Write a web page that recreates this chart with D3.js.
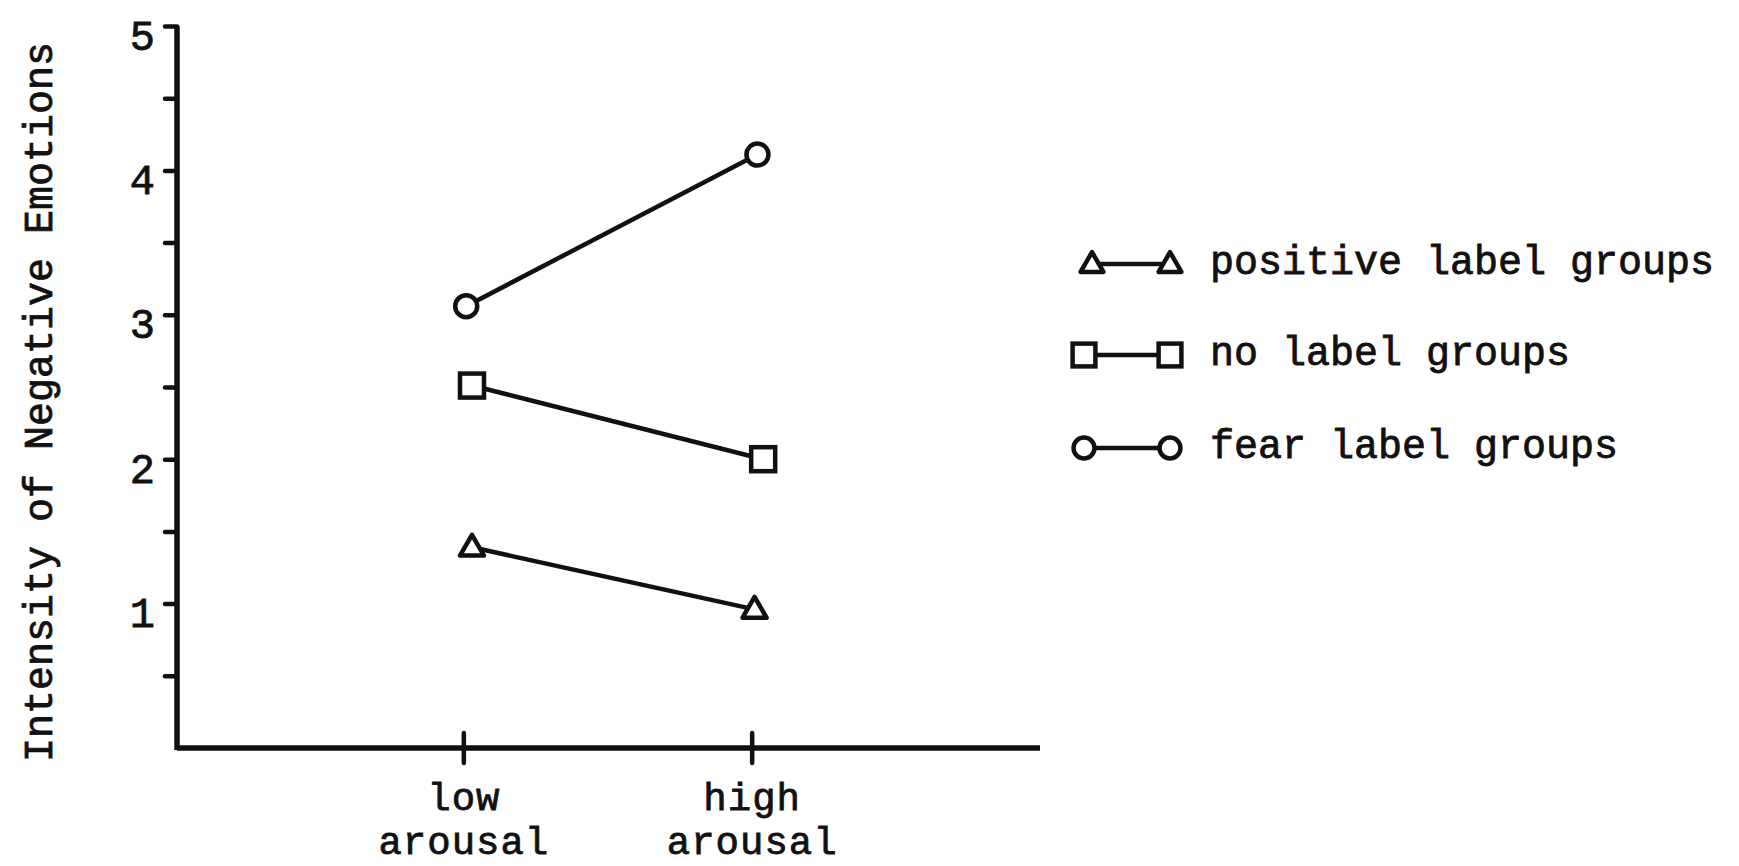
<!DOCTYPE html>
<html>
<head>
<meta charset="utf-8">
<script src="https://cdn.jsdelivr.net/npm/d3@7"></script>
<style>
  html, body { margin: 0; padding: 0; background: #fff; }
  svg { display: block; }
  text { font-family: "Liberation Mono", "Courier New", monospace; fill: #111; }
</style>
</head>
<body>
<svg id="chart" width="1739" height="866"></svg>
<script>
// ---- data ----
const categories = ["low arousal", "high arousal"];
const categoryPos = [1, 2];
const seriesNames = ["positive label groups", "no label groups", "fear label groups"];
const seriesSymbols = ["triangle", "square", "circle"];
const positiveValues = [1.39, 0.96];
const noLabelValues = [2.51, 2.00];
const fearValues = [3.06, 4.11];
// slight horizontal placement of plotted points (in arousal-level units)
const positiveX = [1.03, 2.01];
const noLabelX = [1.03, 2.04];
const fearX = [1.01, 2.02];
const yTickValues = [0.5, 1, 1.5, 2, 2.5, 3, 3.5, 4, 4.5, 5];
const yTickLabels = ["", "1", "", "2", "", "3", "", "4", "", "5"];
const yTitle = "Intensity of Negative Emotions";

const series = [
  { name: seriesNames[0], symbol: seriesSymbols[0], xs: positiveX, ys: positiveValues },
  { name: seriesNames[1], symbol: seriesSymbols[1], xs: noLabelX, ys: noLabelValues },
  { name: seriesNames[2], symbol: seriesSymbols[2], xs: fearX, ys: fearValues }
];

// ---- layout ----
const svg = d3.select("#chart");
const ink = "#111";
const x = d3.scaleLinear().domain([0, 3]).range([175, 1040]);
const y = d3.scaleLinear().domain([0, 5]).range([748, 26]);

// y axis
const yAxis = d3.axisLeft(y)
  .tickValues(yTickValues)
  .tickSize(12)
  .tickPadding(10)
  .tickFormat((d, i) => yTickLabels[i]);
const gy = svg.append("g").attr("transform", `translate(${x(0) + 2},0)`).call(yAxis);
gy.select(".domain").attr("d", `M0,${y(5)}V${y(0) + 2}`)
  .attr("stroke", ink).attr("stroke-width", 5.5).attr("fill", "none");
gy.selectAll(".tick line").attr("stroke", ink).attr("stroke-width", 4.5).attr("stroke-linecap", "round");
gy.selectAll(".tick text")
  .attr("font-size", 42)
  .attr("font-family", "'Liberation Mono', monospace")
  .attr("fill", ink)
  .attr("stroke", ink).attr("stroke-width", 0.8)
  .attr("dy", "0.55em");

// x axis
const xAxis = d3.axisBottom(x)
  .tickValues(categoryPos)
  .tickSize(15)
  .tickFormat("");
const gx = svg.append("g").attr("transform", `translate(0,${y(0)})`).call(xAxis);
gx.select(".domain").attr("d", `M${x(0) + 2},0H${x(3)}`)
  .attr("stroke", ink).attr("stroke-width", 5.5).attr("fill", "none");
gx.selectAll(".tick line").attr("y1", -15).attr("y2", 15)
  .attr("stroke", ink).attr("stroke-width", 4.5).attr("stroke-linecap", "round");
gx.selectAll(".tick").each(function (d, i) {
  const words = categories[i].split(" ");
  words.forEach((w, k) => {
    d3.select(this).append("text")
      .attr("text-anchor", "middle")
      .attr("x", 0).attr("y", 62 + k * 44)
      .attr("font-size", 39)
      .attr("letter-spacing", 1)
      .attr("font-family", "'Liberation Mono', monospace")
      .attr("fill", ink)
      .attr("stroke", ink).attr("stroke-width", 0.8)
      .text(w);
  });
});

// y title
svg.append("text")
  .attr("transform", `translate(52,${402}) rotate(-90)`)
  .attr("text-anchor", "middle")
  .attr("font-size", 40)
  .attr("stroke", ink).attr("stroke-width", 0.8)
  .text(yTitle);

// ---- symbols ----
function drawSymbol(g, type, cx, cy, k) {
  const sw = 4.5;
  if (type === "circle") {
    g.append("circle").attr("cx", cx).attr("cy", cy).attr("r", 11 * k)
      .attr("fill", "#fff").attr("stroke", ink).attr("stroke-width", sw);
  } else if (type === "square") {
    const h = 12 * k;
    g.append("rect").attr("x", cx - h).attr("y", cy - h).attr("width", 2 * h).attr("height", 2 * h)
      .attr("fill", "#fff").attr("stroke", ink).attr("stroke-width", sw);
  } else {
    const s = 24 * k, h = s * Math.sqrt(3) / 2;
    g.append("path")
      .attr("d", `M${cx},${cy - h * 0.6}L${cx + s / 2},${cy + h * 0.4}L${cx - s / 2},${cy + h * 0.4}Z`)
      .attr("fill", "#fff").attr("stroke", ink).attr("stroke-width", sw).attr("stroke-linejoin", "round");
  }
}

const line = d3.line().x(d => x(d[0])).y(d => y(d[1]));
const plot = svg.append("g");
series.forEach(s => {
  const pts = s.xs.map((xv, i) => [xv, s.ys[i]]);
  plot.append("path").attr("d", line(pts))
    .attr("fill", "none").attr("stroke", ink).attr("stroke-width", 4.5);
  pts.forEach(p => drawSymbol(plot, s.symbol, x(p[0]), y(p[1]), 1));
});

// ---- legend ----
const legendRows = [264, 355, 448];
const legend = svg.append("g");
series.forEach((s, i) => {
  const ry = legendRows[i];
  const x1 = s.symbol === "triangle" ? 1092 : 1084;
  const x2 = 1170;
  legend.append("line").attr("x1", x1).attr("x2", x2).attr("y1", ry).attr("y2", ry)
    .attr("stroke", ink).attr("stroke-width", 4.5);
  drawSymbol(legend, s.symbol, x1, ry, 0.95);
  drawSymbol(legend, s.symbol, x2, ry, 0.95);
  legend.append("text")
    .attr("x", 1210).attr("y", ry + 10)
    .attr("font-size", 40)
    .attr("stroke", ink).attr("stroke-width", 0.8)
    .text(s.name);
});
</script>
</body>
</html>
